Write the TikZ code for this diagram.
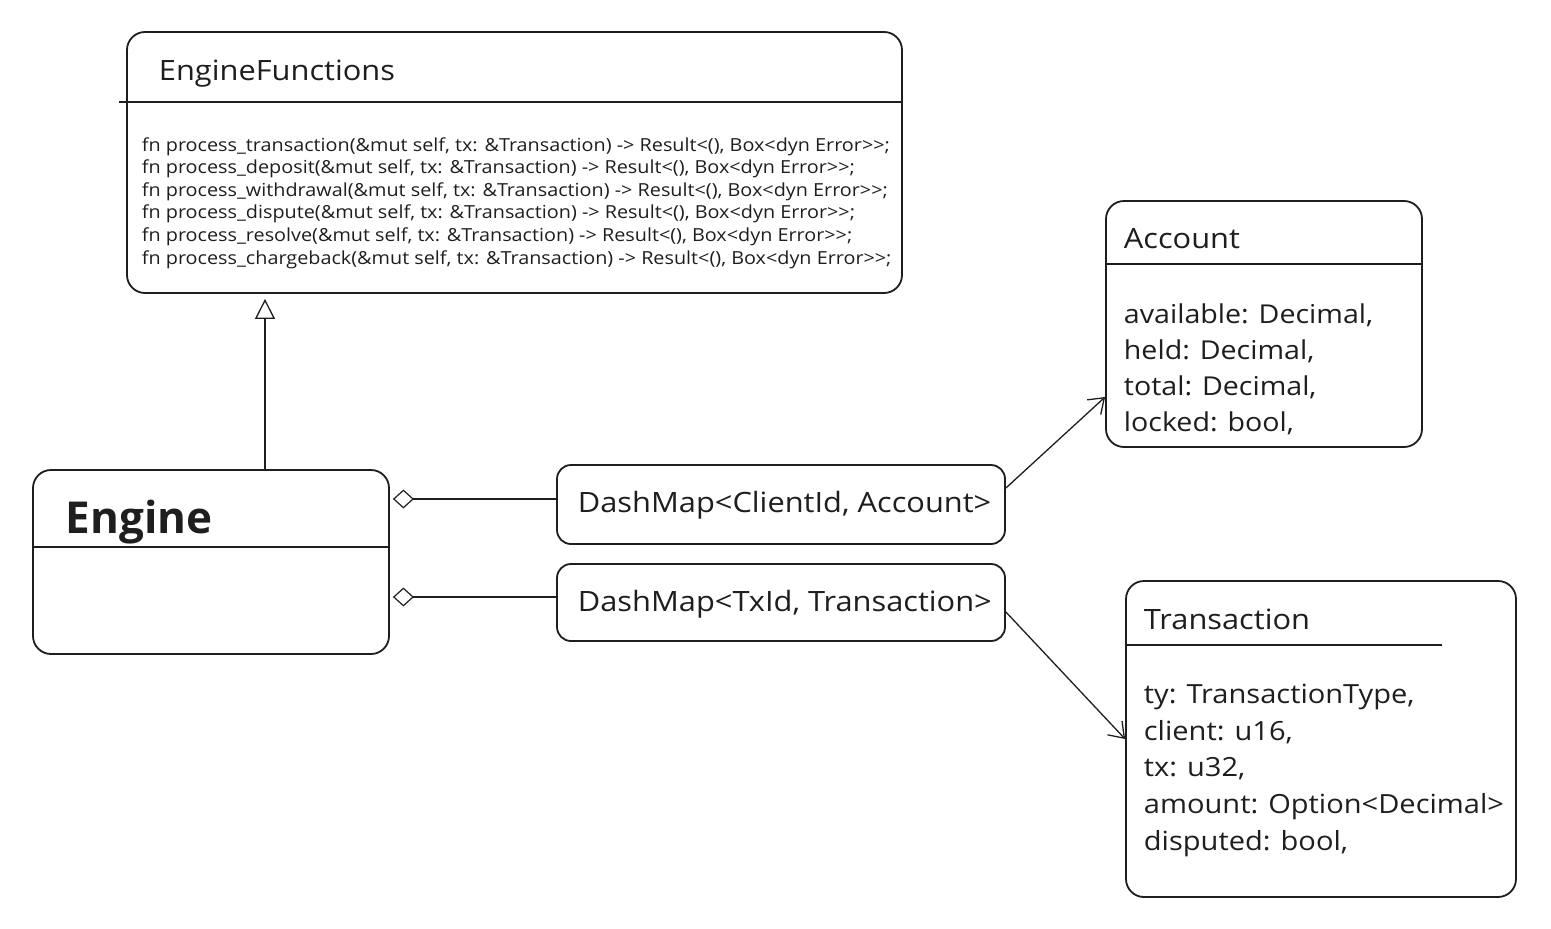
\documentclass[tikz,border=0pt]{standalone}
\usepackage{fontspec}
\setmainfont{Open Sans}
\newfontfamily\hand{Open Sans}[FakeStretch=1.1]
\usepackage{xcolor}
\usepackage{tikz}
\usetikzlibrary{arrows.meta, positioning}
\definecolor{ink}{HTML}{1E1E1E}
\newcommand{\codefont}{\hand\fontsize{18}{20}\selectfont}
\newcommand{\fieldfont}{\hand\fontsize{26}{30}\selectfont}
\newcommand{\trxfont}{\hand\fontsize{26.4}{30}\selectfont}
\newcommand{\mapfont}{\hand\fontsize{28}{30}\selectfont}
\newcommand{\headfont}{\hand\fontsize{28}{30}\selectfont}
\tikzset{
  inherit/.style={-{Triangle[open, length=20pt, width=20pt]}, shorten >=5pt, line width=1.3pt},
  aggr/.style={-{Diamond[open, length=21pt, width=19pt]}, shorten >=3pt, line width=1.2pt},
  assoc/.style={-{Straight Barb[length=14pt, width=20pt]}, line width=1.3pt}
}

\begin{document}
\begin{tikzpicture}[x=1pt, y=-1pt, line width=1.8pt, color=ink]
\useasboundingbox (0,0) rectangle (1551,929);

\begin{scope}[every node/.style={draw, rounded corners=18pt, inner sep=0pt}]
  \node[minimum width=775pt, minimum height=261pt] (ef) at (514.5,162.5) {};
  \node[minimum width=356pt, minimum height=184pt] (eng) at (211,562) {};
  \node[minimum width=448pt, minimum height=79pt, rounded corners=14pt] (cmap) at (781,504.5) {};
  \node[minimum width=448pt, minimum height=77pt, rounded corners=14pt] (tmap) at (781,602.5) {};
  \node[minimum width=316pt, minimum height=246pt] (acc) at (1264,324) {};
  \node[minimum width=390pt, minimum height=316pt] (trx) at (1321,739) {};
\end{scope}

% compartment lines
\draw ([xshift=-7pt]ef.north west) ++(0,71) -- ++(782,0);
\draw (eng.north west) ++(0,78) -- ++(356,0);
\draw (acc.north west) ++(0,64) -- ++(316,0);
\draw (trx.north west) ++(0,65) -- ++(317,0);

\begin{scope}[every node/.style={anchor=base west, inner sep=0pt}]
  \node[font=\headfont] (eftitle) at (158,80) {EngineFunctions};
  \node[font=\codefont] (m1) at (141,151) {fn process\_transaction(\&mut self, tx: \&Transaction) -> Result<(), Box<dyn Error>{}>;};
  \node[font=\codefont] (m2) at (141,173.6) {fn process\_deposit(\&mut self, tx: \&Transaction) -> Result<(), Box<dyn Error>{}>;};
  \node[font=\codefont] (m3) at (141,196.2) {fn process\_withdrawal(\&mut self, tx: \&Transaction) -> Result<(), Box<dyn Error>{}>;};
  \node[font=\codefont] (m4) at (141,218.8) {fn process\_dispute(\&mut self, tx: \&Transaction) -> Result<(), Box<dyn Error>{}>;};
  \node[font=\codefont] (m5) at (141,241.4) {fn process\_resolve(\&mut self, tx: \&Transaction) -> Result<(), Box<dyn Error>{}>;};
  \node[font=\codefont] (m6) at (141,264) {fn process\_chargeback(\&mut self, tx: \&Transaction) -> Result<(), Box<dyn Error>{}>;};

  \node[font=\fontsize{44}{50}\selectfont\bfseries] (engtitle) at (65,533) {Engine};

  \node[font=\mapfont] (cmaplbl) at (577,512) {DashMap<ClientId, Account>};
  \node[font=\mapfont] (tmaplbl) at (577,611) {DashMap<TxId, Transaction>};

  \node[font=\headfont] (acctitle) at (1123,248) {Account};
  \node[font=\fieldfont] (a1) at (1123,323) {available: Decimal,};
  \node[font=\fieldfont] (a2) at (1123,359) {held: Decimal,};
  \node[font=\fieldfont] (a3) at (1123,395) {total: Decimal,};
  \node[font=\fieldfont] (a4) at (1123,431) {locked: bool,};

  \node[font=\headfont] (trxtitle) at (1143,629) {Transaction};
  \node[font=\trxfont] (t1) at (1143,703) {ty: TransactionType,};
  \node[font=\trxfont] (t2) at (1143,740) {client: u16,};
  \node[font=\trxfont] (t3) at (1143,776) {tx: u32,};
  \node[font=\trxfont] (t4) at (1143,813) {amount: Option<Decimal>};
  \node[font=\trxfont] (t5) at (1143,850) {disputed: bool,};
\end{scope}

\coordinate (up) at (265,470);
\coordinate (c1) at ([yshift=5.5pt]cmap.west);
\coordinate (c2) at ([yshift=5.5pt]tmap.west);

\path[inherit] (up) edge (up |- ef.south);
\path[aggr] (c1) edge (c1 -| eng.east);
\path[aggr] (c2) edge (c2 -| eng.east);
\path[assoc] ([yshift=16.5pt]cmap.east) edge ([yshift=-73pt]acc.west);
\path[assoc] ([yshift=-9.5pt]tmap.east) edge (trx.west);

\end{tikzpicture}
\end{document}
